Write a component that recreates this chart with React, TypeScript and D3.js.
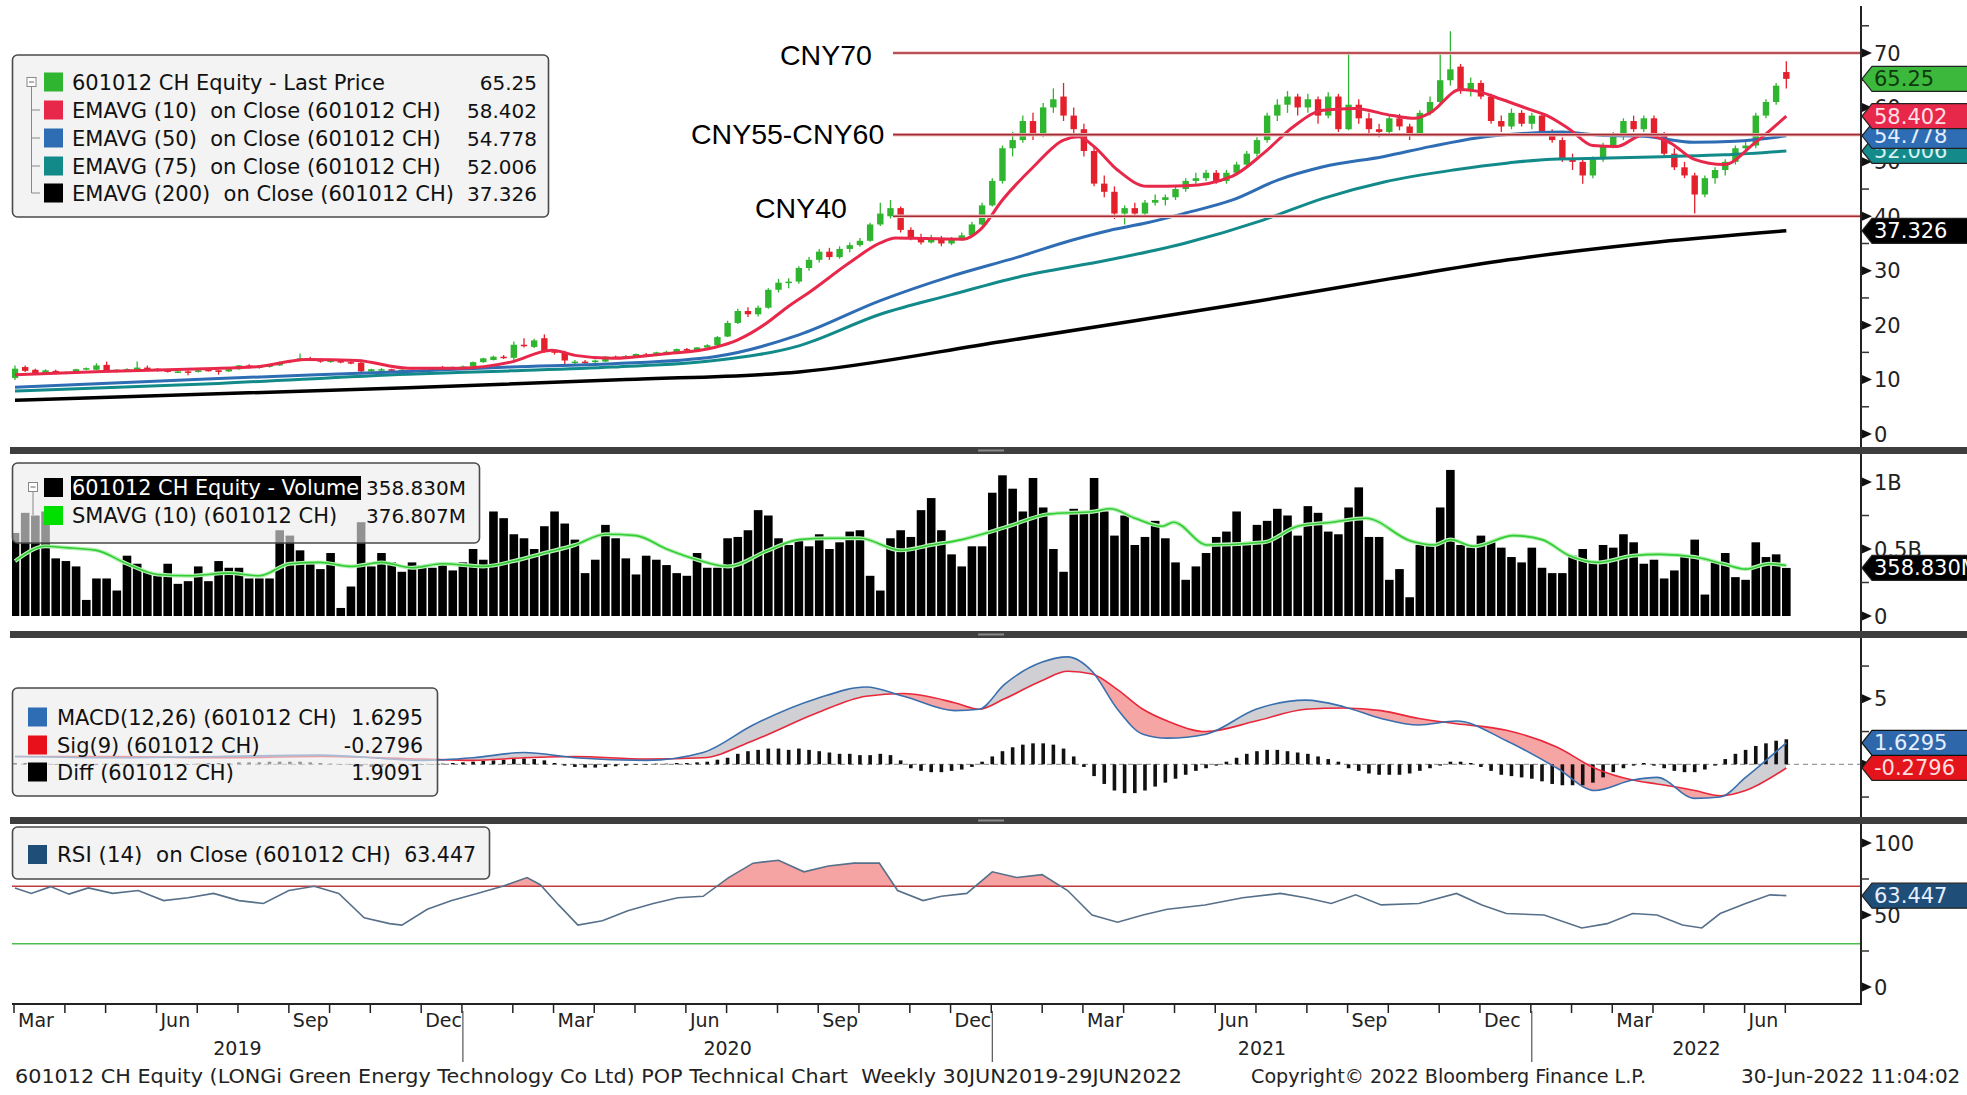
import React from "react";
import * as d3 from "d3";

// ---------- DATA ----------
const weekDates: Date[] = d3.timeFriday.range(new Date(2019, 2, 1), new Date(2022, 6, 2));

// weekly [open, high, low, close]
const priceOHLC: number[][] = [
  [10.3,12.6,9.9,12.0],[12.3,12.6,11.4,11.6],[11.8,12.0,10.9,11.0],[11.1,11.9,10.9,11.7],[11.6,11.8,11.0,11.2],
  [11.2,11.5,11.0,11.3],[11.3,12.0,11.2,11.9],[11.9,12.2,11.7,12.1],[11.8,13.0,11.7,12.6],[12.7,13.3,11.5,11.6],
  [11.6,11.9,11.3,11.8],[11.8,12.1,11.6,11.9],[11.8,13.3,11.7,12.2],[12.2,12.6,11.8,11.9],[12.0,12.1,11.5,11.6],
  [11.7,11.8,11.3,11.4],[11.4,11.7,11.2,11.5],[11.5,11.7,10.8,11.4],[11.4,11.8,11.3,11.7],[11.8,11.9,11.5,11.6],
  [11.7,11.8,10.9,11.4],[11.5,12.0,11.4,11.9],[11.9,12.7,11.8,12.6],[12.6,12.8,12.1,12.2],[12.2,12.5,12.0,12.4],
  [12.4,12.8,12.2,12.6],[12.6,13.3,12.5,13.2],[13.2,13.6,13.0,13.5],[13.5,14.8,13.4,13.9],[13.9,14.2,13.4,13.6],
  [13.7,13.9,13.1,13.3],[13.3,13.6,13.1,13.5],[13.4,13.7,13.0,13.2],[13.2,13.4,12.8,13.0],[13.1,13.3,11.0,11.5],
  [11.5,12.0,11.3,11.9],[11.8,12.1,11.6,11.9],[11.9,12.0,11.4,11.6],[11.6,11.9,11.4,11.8],[11.8,11.9,11.3,11.5],
  [11.5,11.8,11.3,11.6],[11.6,12.3,11.5,12.2],[12.3,12.5,11.9,12.0],[12.0,12.4,11.9,12.3],[12.3,12.6,12.1,12.4],
  [12.4,13.3,12.3,13.2],[13.2,14.0,13.1,13.9],[13.6,14.4,13.5,14.2],[14.2,14.5,13.8,14.0],[14.0,17.0,13.4,16.4],
  [16.4,17.6,15.9,16.2],[16.0,17.5,15.8,17.2],[17.6,18.3,15.0,15.2],[15.2,15.6,14.6,15.0],[15.0,15.3,12.4,13.5],
  [13.2,13.6,12.5,13.3],[13.3,13.6,12.9,13.2],[13.2,13.7,13.0,13.5],[13.3,14.3,13.2,14.2],[14.2,14.4,13.8,14.0],
  [14.0,14.5,13.9,14.3],[14.2,14.8,14.1,14.7],[14.6,14.9,14.3,14.5],[14.4,15.1,14.3,15.0],[15.0,15.3,14.8,15.1],
  [15.0,15.7,14.9,15.6],[15.6,15.8,15.1,15.3],[15.3,16.0,15.2,15.9],[15.9,16.5,15.8,16.3],[16.3,18.0,16.2,17.8],
  [17.9,20.8,17.8,20.4],[20.4,23.0,20.2,22.6],[22.6,23.3,21.5,22.0],[22.0,23.6,21.6,23.2],[23.2,26.8,23.0,26.5],
  [26.5,28.5,26.0,27.8],[27.8,28.6,26.8,28.0],[28.0,30.8,27.6,30.5],[30.5,32.5,30.0,32.0],[32.0,34.0,31.5,33.5],
  [33.5,34.2,32.0,32.5],[32.5,34.5,32.2,34.0],[34.0,35.2,33.4,34.7],[34.7,36.0,34.4,35.5],[35.5,38.8,35.3,38.5],
  [38.5,42.5,38.2,40.5],[40.0,43.0,39.6,41.5],[41.5,41.8,37.0,37.5],[37.5,38.0,35.6,36.0],[36.0,36.8,34.8,35.2],
  [35.2,36.6,35.0,36.0],[36.0,36.4,34.5,35.0],[35.0,36.2,34.7,35.8],[35.8,37.0,35.5,36.5],[36.5,39.0,36.2,38.5],
  [38.5,42.5,38.3,42.0],[42.0,47.0,41.8,46.5],[46.5,53.0,46.0,52.5],[52.5,55.5,51.0,54.0],[54.0,58.5,53.5,57.5],
  [57.5,59.0,54.0,55.0],[55.0,60.8,54.5,60.0],[60.0,63.5,59.0,61.5],[62.0,64.5,57.5,58.5],[58.5,60.0,55.0,56.0],
  [56.0,57.0,51.0,52.0],[52.0,53.0,45.5,46.0],[46.0,47.5,43.5,44.5],[44.5,45.5,39.5,40.5],[40.5,42.0,38.5,41.5],
  [41.5,42.5,39.8,40.5],[40.5,43.0,40.2,42.5],[42.5,44.0,42.0,43.0],[43.0,44.0,42.0,43.5],[43.5,45.5,43.0,45.0],
  [45.0,47.0,44.5,46.5],[46.5,48.0,46.0,47.0],[47.0,48.5,46.5,48.0],[48.0,48.5,46.0,46.5],[46.5,48.5,46.0,48.0],
  [48.0,50.0,47.5,49.5],[49.5,52.0,49.0,51.5],[51.5,54.5,51.0,54.0],[54.0,59.0,53.5,58.5],[58.5,61.5,57.5,60.5],
  [60.5,63.0,59.0,62.0],[62.0,62.5,58.5,60.0],[60.0,62.5,59.0,61.5],[61.5,62.0,57.0,58.5],[58.5,62.8,58.0,62.0],
  [62.0,62.5,55.5,56.0],[56.0,70.2,55.8,60.5],[60.5,61.5,57.0,58.0],[58.0,59.0,55.0,56.0],[56.0,57.0,54.5,55.5],
  [55.5,58.5,55.0,58.0],[58.0,58.8,55.8,56.5],[56.5,57.0,54.0,55.0],[55.0,59.5,54.8,59.0],[59.0,62.0,58.5,61.0],
  [61.0,70.0,60.5,65.0],[65.0,74.0,64.0,67.0],[67.5,68.0,62.5,63.0],[63.0,65.5,62.0,64.5],[64.5,65.0,61.5,62.0],
  [62.0,62.5,57.0,57.5],[57.5,58.5,55.5,56.5],[56.5,59.8,56.0,59.0],[59.0,59.5,56.5,57.0],[57.0,59.0,56.0,58.5],
  [58.5,59.0,55.0,55.5],[55.5,56.0,53.5,54.0],[54.0,54.5,50.0,50.5],[50.5,51.5,48.5,50.0],[50.0,50.5,46.0,47.5],
  [47.5,51.0,47.0,50.5],[50.5,53.5,50.0,53.0],[53.0,55.5,52.5,55.0],[55.0,58.0,54.0,57.5],[57.5,58.5,55.5,56.0],
  [56.0,58.5,55.5,58.0],[58.0,58.5,54.5,55.0],[55.0,55.5,51.0,51.5],[51.5,52.5,48.5,49.0],[49.0,50.0,47.0,47.5],
  [47.5,48.0,40.5,44.0],[44.0,47.5,43.5,47.0],[47.0,49.0,46.0,48.5],[48.5,50.5,47.5,50.0],[50.0,53.0,49.5,52.5],
  [52.5,54.0,51.5,53.0],[53.0,59.0,52.5,58.5],[58.5,61.5,58.0,61.0],[61.0,64.5,60.5,64.0],[66.5,68.5,63.5,65.25],
];

// weekly volume, millions of shares
const volumeM: number[] = [
  620,770,750,780,430,410,370,120,280,280, 190,450,390,330,300,390,240,260,370,260,
  410,360,360,280,280,280,640,600,490,390, 350,470,60,220,700,370,470,400,330,400,
  380,360,400,340,400,500,420,780,730,610, 580,500,670,780,690,570,320,420,680,580,
  430,310,450,420,380,320,300,470,360,360, 580,590,640,790,750,580,530,560,520,610,
  500,550,630,640,300,190,580,640,590,790, 880,640,460,370,520,520,920,1050,950,780,
  1030,810,500,330,800,770,1030,780,600,750, 530,590,710,580,400,270,370,470,590,630,
  780,550,680,710,800,750,600,820,770,630, 610,810,960,590,590,270,350,140,530,530,
  810,1090,530,510,600,550,510,440,400,510, 360,320,320,450,500,400,530,510,610,550,
  390,420,280,340,450,570,160,400,470,290, 270,550,440,460,358.83,
];

// [week index, value] points
const volSma10: number[][] = [
  [0,410],[3,520],[5,510],[8,490],[11,390],[14,310],[17,300],[21,320],[24,300],[27,390],[30,400],[33,370],
  [36,400],[39,360],[42,390],[46,370],[49,410],[52,470],[55,530],[58,610],[61,600],[64,500],[67,420],[70,370],
  [74,490],[77,570],[80,580],[83,580],[87,490],[90,530],[93,570],[95,610],[97.6,670],[101.5,760],[106,780],
  [107.6,800],[110,730],[112.7,670],[113.8,700],[117.1,530],[122.7,550],[126,670],[129.4,700],[132.7,730],
  [137.1,560],[139.4,530],[141,570],[143.3,520],[147.2,600],[150,570],[152.7,450],[155.5,400],[158.9,450],
  [161.6,460],[165,440],[167.8,390],[170,350],[172.3,390],[174,376.807],
];

const ema10: number[][] = [
  [0,10.9],[8.6,11.5],[18.6,12.0],[24,12.4],[28.6,13.7],[33.6,13.5],[38.6,12.1],[43.7,12.1],[48.7,13.2],
  [52.7,15.4],[55.2,14.4],[58.7,13.9],[63.7,14.7],[68.7,15.9],[71,17.3],[73.7,20.2],[75.8,23.2],[78,26],
  [82,31.5],[85,35.1],[86.5,36],[89.5,35.9],[93.2,35.8],[94.8,37.5],[97,43],[100,49],[103,54],[104.5,54.6],
  [106,52.8],[108.3,48.5],[111.2,45.5],[115,45.6],[119.6,47.4],[122.6,51.5],[125.6,56.5],[128.5,59.5],
  [131.6,59.8],[135.3,58.5],[137.5,58],[139,59],[142,63.3],[143.6,63],[146,61.5],[149,59.5],[150.5,58.5],
  [152.7,56],[155,53],[157.3,52.8],[160,55],[162.6,53.5],[164.9,50.5],[167.9,49.5],[170.8,53.3],[174,58.402],
];
const ema50: number[][] = [
  [0,8.6],[20,10.2],[38.6,11.5],[48.7,12.3],[58.7,12.9],[68.7,14.2],[77,18.2],[85,24.5],[92,29],[98.5,32.5],
  [103.8,35.6],[107.5,37.4],[111.2,38.8],[115,40.6],[119.6,43],[124.1,46.7],[128.5,49.1],[134.5,51],[139,52.8],
  [143.6,54.4],[149,55.3],[152,55.5],[155.7,54.9],[160,54.7],[164.9,53.6],[169,53.8],[174,54.778],
];
const ema75: number[][] = [
  [0,7.9],[20,9.3],[38.6,11.0],[48.7,11.6],[58.7,12.3],[68.7,13.5],[77,16.2],[85,22],[92,25.6],[98.5,28.8],
  [107.5,32],[115,35.1],[122.6,39.3],[128.5,43.3],[134.5,46.3],[141.3,48.5],[146.7,49.8],[151,50.5],
  [156.5,50.7],[162.6,51],[167.9,51.3],[174,52.006],
];
const ema200: number[][] = [
  [0,6.2],[38.6,8.5],[60,10.0],[77,11.4],[97,17],[110,20.8],[122,24.4],[135,28.5],[146.7,32],[160,35],[174,37.326],
];

const macdIdx: number[] = [0,10,20,30,40,45,50,55,62,67.6,72.5,78.7,83.6,87.3,92.3,94.7,97.2,100.9,103.4,105.8,108.3,
  110.8,113.2,117,121.9,126.8,130.5,134.2,137.9,141.6,146.5,151.5,155.2,158.9,161.3,165,167.5,170,174];
const macdVals: number[] = [0.6,0.5,0.6,0.7,0.3,0.5,0.9,0.5,0.3,0.9,3.0,5.0,5.9,5.2,4.1,4.2,6.1,7.8,8.2,7.1,4.2,
  2.3,2.0,2.3,4.2,4.9,4.4,3.5,3.0,3.3,1.8,-0.3,-2.0,-1.2,-1.0,-2.6,-2.5,-1.0,1.6295];
const signalVals: number[] = [0.6,0.6,0.5,0.6,0.4,0.3,0.5,0.6,0.4,0.5,1.8,3.9,5.2,5.4,4.7,4.2,5.0,6.4,7.1,6.9,5.7,
  4.2,3.3,2.5,3.3,4.2,4.3,4.1,3.5,3.1,2.6,1.3,-0.3,-1.2,-1.5,-2.0,-2.4,-2.0,-0.2796];
const macdDiff: number[] = [
  0.1,0.1,0.05,0,-0.05,-0.1,-0.1,-0.05,0,0.05, 0.05,0,0,-0.05,-0.1,-0.1,-0.05,0,0.05,0.1,
  0.1,0.1,0.15,0.15,0.15,0.2,0.2,0.2,0.2,0.15, 0.1,0.05,0,-0.05,-0.15,-0.2,-0.2,-0.2,-0.15,-0.1,
  -0.05,0,0.05,0.1,0.15,0.2,0.25,0.3,0.35,0.4, 0.45,0.4,0.3,0.1,-0.1,-0.2,-0.25,-0.25,-0.2,-0.15,
  -0.1,-0.05,0,0.05,0.05,0.1,0.1,0.15,0.2,0.35, 0.5,0.8,1.0,1.1,1.2,1.2,1.1,1.2,1.1,1.0,
  0.9,0.8,0.8,0.7,0.7,0.8,0.7,0.3,-0.3,-0.5, -0.6,-0.6,-0.5,-0.4,-0.2,0.2,0.6,1.0,1.3,1.5,
  1.6,1.6,1.5,1.2,0.6,-0.2,-0.9,-1.5,-2.0,-2.2, -2.2,-2.0,-1.7,-1.4,-1.1,-0.8,-0.5,-0.3,-0.1,0.2,
  0.5,0.8,1.0,1.1,1.1,1.0,0.9,0.8,0.6,0.4, 0.2,-0.3,-0.5,-0.7,-0.8,-0.8,-0.8,-0.7,-0.5,-0.3,
  -0.1,0.2,0.2,0.1,-0.2,-0.5,-0.8,-0.9,-1.0,-1.1, -1.3,-1.5,-1.6,-1.6,-1.6,-1.4,-1.0,-0.6,-0.3,-0.1,
  0.1,-0.1,-0.3,-0.5,-0.6,-0.6,-0.4,-0.1,0.4,0.8, 1.1,1.4,1.6,1.8,1.9091,
];

const rsi14: number[][] = [
  [0,68.8],[1.6,65],[3.5,69.7],[5.3,64.5],[7.2,68.8],[9.6,65],[12.1,67],[14.6,60],[17,62],[19.5,65],[22,60],
  [24.4,58],[26.9,67],[29.4,70],[31.8,65],[34.3,48],[36.8,44],[38,43],[40.5,54],[42.9,60],[45.4,65],[47.9,70],
  [50.3,76],[51.6,71],[53.4,57],[55.3,43],[57.7,46],[60.2,53],[62.7,58],[65.1,62],[67.6,63],[70.1,76],[72.5,86],
  [75,88],[77.5,80],[79.9,84],[82.4,86],[84.9,86],[86.7,67],[89.2,60],[91,63],[93.5,65],[96,80],[98.4,76],
  [100.9,78],[103.4,67],[105.8,50],[108.3,45],[110.8,50],[113.2,54],[116.9,57],[120.6,62],[124.3,65],[126.8,62],
  [129.3,58],[131.7,64],[134.2,57],[137.9,58],[141.6,65],[144.1,57],[146.5,51],[150.2,50],[153.9,41],[156.4,44],
  [158.9,51],[161.3,50],[163.8,43],[165.7,41],[167.5,51],[170,58],[172.4,64],[174,63.447],
];

const priceTickVals = [0, 10, 20, 30, 40, 50, 60, 70];
const priceMinorVals = [5, 15, 25, 35, 45, 55, 65, 75];
const volTickVals = [0, 500, 1000];
const volTickLabels = ["0", "0.5B", "1B"];
const volMinorVals = [250, 750];
const macdTickVals = [0, 5];
const macdMinorVals = [-2.5, 2.5, 7.5];
const rsiTickVals = [0, 50, 100];
const rsiMinorVals = [25, 75];

const levelValues = [70, 55, 40];
const levelLabels = ["CNY70", "CNY55-CNY60", "CNY40"];

const priceLegendLabels = [
  "601012 CH Equity - Last Price",
  "EMAVG (10)  on Close (601012 CH)",
  "EMAVG (50)  on Close (601012 CH)",
  "EMAVG (75)  on Close (601012 CH)",
  "EMAVG (200)  on Close (601012 CH)",
];
const priceLegendValues = ["65.25", "58.402", "54.778", "52.006", "37.326"];
const volLegendLabels = ["601012 CH Equity - Volume", "SMAVG (10) (601012 CH)"];
const volLegendValues = ["358.830M", "376.807M"];
const macdLegendLabels = ["MACD(12,26) (601012 CH)", "Sig(9) (601012 CH)", "Diff (601012 CH)"];
const macdLegendValues = ["1.6295", "-0.2796", "1.9091"];
const rsiLegendLabel = "RSI (14)  on Close (601012 CH)";
const rsiLegendValue = "63.447";

const footerLeft = "601012 CH Equity (LONGi Green Energy Technology Co Ltd) POP Technical Chart  Weekly 30JUN2019-29JUN2022";
const footerMid = "Copyright© 2022 Bloomberg Finance L.P.";
const footerRight = "30-Jun-2022 11:04:02";

// ---------- STYLE ----------
const FONT = "'DejaVu Sans', Verdana, sans-serif";
const C_UP = "#2fb52f";
const C_DN = "#e3202c";
const C_E10 = "#e8284a";
const C_E50 = "#2e6db4";
const C_E75 = "#138a8a";
const C_E200 = "#000000";
const C_MACD = "#3a6fae";
const C_SIG = "#e8283a";
const C_RSI = "#56708a";

const AX_X = 1861;
const LEFT = 12;
const PRE: React.CSSProperties = { whiteSpace: "pre" };

export default function App() {
  const x = d3.scaleLinear().domain([0, 174]).range([15, 15 + 174 * 10.18]);
  const yP = d3.scaleLinear().domain([0, 70]).range([434, 53]);
  const yV = d3.scaleLinear().domain([0, 1000]).range([616, 482]);
  const yM = d3.scaleLinear().domain([0, 5]).range([764.3, 698.8]);
  const yR = d3.scaleLinear().domain([0, 100]).range([987, 843]);

  const pLine = (pts: number[][]) =>
    d3.line<number[]>().x((d) => x(d[0])).y((d) => yP(d[1])).curve(d3.curveMonotoneX)(pts) || "";

  const volSmaPath = d3.line<number[]>().x((d) => x(d[0])).y((d) => yV(d[1])).curve(d3.curveMonotoneX)(volSma10) || "";

  const macdPts = macdIdx.map((i, k) => [i, macdVals[k], signalVals[k]]);
  const macdPath = d3.line<number[]>().x((d) => x(d[0])).y((d) => yM(d[1])).curve(d3.curveMonotoneX)(macdPts) || "";
  const sigPath = d3.line<number[]>().x((d) => x(d[0])).y((d) => yM(d[2])).curve(d3.curveMonotoneX)(macdPts) || "";
  const betweenPath = d3.area<number[]>().x((d) => x(d[0])).y0((d) => yM(d[2])).y1((d) => yM(d[1])).curve(d3.curveMonotoneX)(macdPts) || "";
  const aboveSig = d3.area<number[]>().x((d) => x(d[0])).y0(600).y1((d) => yM(d[2])).curve(d3.curveMonotoneX)(macdPts) || "";
  const belowSig = d3.area<number[]>().x((d) => x(d[0])).y0(860).y1((d) => yM(d[2])).curve(d3.curveMonotoneX)(macdPts) || "";

  const rsiPath = d3.line<number[]>().x((d) => x(d[0])).y((d) => yR(d[1]))(rsi14) || "";
  const rsiFill = d3.area<number[]>().x((d) => x(d[0])).y0(yR(70)).y1((d) => yR(d[1]))(rsi14) || "";

  const monthStarts: number[] = [];
  const yearStarts: number[] = [];
  weekDates.forEach((d, i) => {
    if (i === 0 || d.getMonth() !== weekDates[i - 1].getMonth()) monthStarts.push(i);
    if (i > 0 && d.getFullYear() !== weekDates[i - 1].getFullYear()) yearStarts.push(i);
  });
  const fmtMonth = d3.timeFormat("%b");
  const yearSpans: { year: number; x0: number; x1: number }[] = [];
  {
    const bounds = [LEFT, ...yearStarts.map((i) => x(i)), AX_X];
    const years = [weekDates[0].getFullYear(), ...yearStarts.map((i) => weekDates[i].getFullYear())];
    years.forEach((yr, k) => yearSpans.push({ year: yr, x0: bounds[k], x1: bounds[k + 1] }));
  }

  const tri = (y: number) => `M${AX_X + 1},${y - 4.5}L${AX_X + 11},${y}L${AX_X + 1},${y + 4.5}Z`;

  const Tag = ({ cy, bg, fg, text, stroke }: { cy: number; bg: string; fg: string; text: string; stroke?: string }) => (
    <g>
      <path d={`M${AX_X + 1},${cy}L${AX_X + 11},${cy - 12.5}L1970,${cy - 12.5}L1970,${cy + 12.5}L${AX_X + 11},${cy + 12.5}Z`}
        fill={bg} stroke={stroke || "#222"} strokeWidth={1.2} />
      <text x={AX_X + 13} y={cy + 7.5} fontSize={21} fill={fg} fontFamily={FONT}>{text}</text>
    </g>
  );

  const AxisTicks = ({ vals, labels, minor, scale, y0, y1 }: any) => (
    <g>
      <line x1={AX_X} x2={AX_X} y1={y0} y2={y1} stroke="#222" strokeWidth={2} />
      {minor.map((v: number) => (
        <line key={"m" + v} x1={AX_X} x2={AX_X + 8} y1={scale(v)} y2={scale(v)} stroke="#333" strokeWidth={1.5} />
      ))}
      {vals.map((v: number, k: number) => (
        <g key={"t" + v}>
          <path d={tri(scale(v))} fill="#111" />
          <text x={AX_X + 13} y={scale(v) + 7.5} fontSize={21} fill="#222" fontFamily={FONT}>
            {labels ? labels[k] : String(v)}
          </text>
        </g>
      ))}
    </g>
  );

  const legendBox = (x0: number, y0: number, w: number, h: number) => (
    <rect x={x0} y={y0} width={w} height={h} rx={5} fill="rgba(236,236,236,0.62)" stroke="#4a4a4a" strokeWidth={1.6} />
  );

  const treeIcon = (cx: number, cy: number) => (
    <g>
      <rect x={cx - 4.5} y={cy - 4.5} width={9} height={9} fill="#fff" stroke="#888" strokeWidth={1} />
      <line x1={cx - 2.5} x2={cx + 2.5} y1={cy} y2={cy} stroke="#666" strokeWidth={1} />
    </g>
  );

  const priceLegendColors = [C_UP, C_E10, C_E50, C_E75, C_E200];
  const rowsP = [82, 110, 138, 166, 193];
  const rowsM = [717, 745, 772];

  return (
    <svg width={1967} height={1095} style={{ position: "absolute", left: 0, top: 0, background: "#fff" }}
      fontFamily={FONT}>
      <defs>
        <clipPath id="plotClip"><rect x={LEFT} y={0} width={AX_X - LEFT} height={1004} /></clipPath>
        <clipPath id="aboveSig"><path d={aboveSig} /></clipPath>
        <clipPath id="belowSig"><path d={belowSig} /></clipPath>
        <clipPath id="above70"><rect x={LEFT} y={824} width={AX_X - LEFT} height={yR(70) - 824} /></clipPath>
      </defs>
      <rect x={0} y={0} width={1967} height={1095} fill="#fff" />

      {/* ---------- PRICE PANEL ---------- */}
      <g clipPath="url(#plotClip)">
        {priceOHLC.map((d, i) => {
          const [o, h, l, c] = d;
          const col = c >= o ? C_UP : C_DN;
          const top = yP(Math.max(o, c));
          const bh = Math.max(1.5, Math.abs(yP(o) - yP(c)));
          return (
            <g key={"c" + i}>
              <line x1={x(i)} x2={x(i)} y1={yP(h)} y2={yP(l)} stroke={col} strokeWidth={1.3} />
              <rect x={x(i) - 3.2} y={top} width={6.4} height={bh} fill={col} />
            </g>
          );
        })}
        <path d={pLine(ema200)} fill="none" stroke={C_E200} strokeWidth={3.5} />
        <path d={pLine(ema75)} fill="none" stroke={C_E75} strokeWidth={3} />
        <path d={pLine(ema50)} fill="none" stroke={C_E50} strokeWidth={3} />
        <path d={pLine(ema10)} fill="none" stroke={C_E10} strokeWidth={3} />
      </g>
      {levelValues.map((v, k) => (
        <g key={"lv" + k}>
          <line x1={893} x2={AX_X} y1={yP(v)} y2={yP(v)} stroke="#f2c4c4" strokeWidth={3.5} />
          <line x1={893} x2={AX_X} y1={yP(v)} y2={yP(v)} stroke="#a52a33" strokeWidth={1.6} />
        </g>
      ))}
      <text x={780} y={65} fontSize={28.5} fontFamily="'Liberation Sans', Arial, sans-serif" fill="#000">{levelLabels[0]}</text>
      <text x={691} y={144} fontSize={28.5} fontFamily="'Liberation Sans', Arial, sans-serif" fill="#000">{levelLabels[1]}</text>
      <text x={755} y={218} fontSize={28.5} fontFamily="'Liberation Sans', Arial, sans-serif" fill="#000">{levelLabels[2]}</text>

      {/* price legend */}
      {legendBox(12.5, 55, 536, 162)}
      {treeIcon(31.5, 82)}
      <path d={`M31.5,87V193 ${[110, 138, 166, 193].map((r) => `M31.5,${r}H40`).join(" ")}`} stroke="#888" strokeWidth={1} fill="none" />
      {priceLegendLabels.map((lab, k) => (
        <g key={"pl" + k}>
          <rect x={44} y={rowsP[k] - 9.5} width={19} height={19} fill={priceLegendColors[k]} />
          <text x={72} y={rowsP[k] + 7.5} fontSize={21} fill="#111" style={PRE} xmlSpace="preserve">{lab}</text>
          <text x={537} y={rowsP[k] + 7.5} fontSize={20} fill="#111" textAnchor="end">{priceLegendValues[k]}</text>
        </g>
      ))}

      {/* ---------- VOLUME PANEL ---------- */}
      <g clipPath="url(#plotClip)">
        {volumeM.map((v, i) => (
          <rect key={"v" + i} x={x(i) - 4.3} y={yV(v)} width={8.6} height={yV(0) - yV(v)} fill="#000" />
        ))}
        <path d={volSmaPath} fill="none" stroke="#b4f0b4" strokeWidth={4} />
        <path d={volSmaPath} fill="none" stroke="#32cd32" strokeWidth={1.6} />
      </g>
      {legendBox(12.5, 463, 467, 80)}
      {treeIcon(33, 487)}
      <path d="M33,492V515" stroke="#888" strokeWidth={1} fill="none" />
      <rect x={44} y={478} width={19} height={19} fill="#000" />
      <rect x={71} y={476} width={290} height={24} fill="#000" />
      <text x={72} y={495} fontSize={21} fill="#fff" textLength={287} lengthAdjust="spacingAndGlyphs">{volLegendLabels[0]}</text>
      <text x={466} y={495} fontSize={20} fill="#111" textAnchor="end">{volLegendValues[0]}</text>
      <rect x={44} y={506} width={19} height={19} fill="#00e000" />
      <text x={72} y={523} fontSize={21} fill="#111">{volLegendLabels[1]}</text>
      <text x={466} y={523} fontSize={20} fill="#111" textAnchor="end">{volLegendValues[1]}</text>

      {/* ---------- MACD PANEL ---------- */}
      <g clipPath="url(#plotClip)">
        <line x1={LEFT} x2={AX_X} y1={yM(0)} y2={yM(0)} stroke="#9a9a9a" strokeWidth={1.3} strokeDasharray="5,4" />
        <g clipPath="url(#aboveSig)"><path d={betweenPath} fill="#cfcfd4" /></g>
        <g clipPath="url(#belowSig)"><path d={betweenPath} fill="#f6a5a5" /></g>
        {macdDiff.map((v, i) => (
          <rect key={"d" + i} x={x(i) - 1.8} y={Math.min(yM(v), yM(0))} width={3.6}
            height={Math.max(0.6, Math.abs(yM(v) - yM(0)))} fill="#111" />
        ))}
        <path d={sigPath} fill="none" stroke={C_SIG} strokeWidth={1.6} />
        <path d={macdPath} fill="none" stroke={C_MACD} strokeWidth={1.6} />
      </g>
      {legendBox(12.5, 688, 425, 108)}
      {[C_E50, "#e8101a", "#000"].map((col, k) => (
        <g key={"ml" + k}>
          <rect x={28} y={rowsM[k] - 9.5} width={19} height={19} fill={col} />
          <text x={57} y={rowsM[k] + 7.5} fontSize={21} fill="#111">{macdLegendLabels[k]}</text>
          <text x={423} y={rowsM[k] + 7.5} fontSize={20.5} fill="#111" textAnchor="end">{macdLegendValues[k]}</text>
        </g>
      ))}

      {/* ---------- RSI PANEL ---------- */}
      <g clipPath="url(#plotClip)">
        <g clipPath="url(#above70)"><path d={rsiFill} fill="#f6a3a3" /></g>
        <line x1={LEFT} x2={AX_X} y1={yR(70)} y2={yR(70)} stroke="#c23a3e" strokeWidth={1.6} />
        <line x1={LEFT} x2={AX_X} y1={yR(30)} y2={yR(30)} stroke="#4cc04c" strokeWidth={1.6} />
        <path d={rsiPath} fill="none" stroke={C_RSI} strokeWidth={1.6} />
      </g>
      {legendBox(12.5, 827, 477, 52)}
      <rect x={28} y={845} width={19} height={19} fill="#1f4e79" />
      <text x={57} y={862} fontSize={21.4} fill="#111" style={PRE} xmlSpace="preserve">{rsiLegendLabel}</text>
      <text x={476} y={862} fontSize={20.5} fill="#111" textAnchor="end">{rsiLegendValue}</text>

      {/* ---------- RIGHT AXES ---------- */}
      <AxisTicks vals={priceTickVals} minor={priceMinorVals} scale={yP} y0={6} y1={447} />
      <AxisTicks vals={volTickVals} labels={volTickLabels} minor={volMinorVals} scale={yV} y0={454} y1={632} />
      <AxisTicks vals={macdTickVals} minor={macdMinorVals} scale={yM} y0={638} y1={818} />
      <AxisTicks vals={rsiTickVals} minor={rsiMinorVals} scale={yR} y0={824} y1={1005} />

      {/* value tags */}
      <Tag cy={yP(52.006)} bg="#158a8a" fg="#d6f2f2" text="52.006" />
      <Tag cy={yP(54.778)} bg="#2e6db4" fg="#e6efff" text="54.778" />
      <Tag cy={yP(58.402)} bg="#e8284a" fg="#ffe0e6" text="58.402" />
      <Tag cy={yP(65.25)} bg="#3cb83c" fg="#0e3a0e" text="65.25" />
      <Tag cy={yP(37.326)} bg="#000" fg="#fff" text="37.326" />
      <Tag cy={yV(358.83)} bg="#000" fg="#fff" text="358.830M" />
      <Tag cy={yM(-0.2796)} bg="#e4141c" fg="#ffdede" text="-0.2796" />
      <Tag cy={yM(1.6295)} bg="#2f68aa" fg="#e6efff" text="1.6295" stroke="#111" />
      <Tag cy={yR(63.447)} bg="#1f4e79" fg="#e6efff" text="63.447" />

      {/* ---------- SEPARATORS ---------- */}
      {[447, 631, 817].map((y) => (
        <g key={"s" + y}>
          <rect x={10} y={y} width={1957} height={7} fill="#3e3e3e" />
          <rect x={978} y={y + 2.5} width={26} height={2} fill="#8a8a8a" />
        </g>
      ))}

      {/* ---------- X AXIS ---------- */}
      <line x1={LEFT} x2={AX_X + 1} y1={1004} y2={1004} stroke="#222" strokeWidth={2.2} />
      {monthStarts.map((i) => (
        <line key={"mt" + i} x1={x(i) - 1} x2={x(i) - 1} y1={1004} y2={1013} stroke="#222" strokeWidth={1.5} />
      ))}
      {monthStarts.filter((i) => weekDates[i].getMonth() % 3 === 2).map((i) => (
        <text key={"ml" + i} x={x(i) + 3} y={1027} fontSize={19} fill="#222">{fmtMonth(weekDates[i])}</text>
      ))}
      {yearStarts.map((i) => (
        <line key={"yl" + i} x1={x(i)} x2={x(i)} y1={1011} y2={1062} stroke="#333" strokeWidth={1} />
      ))}
      {yearSpans.map((s) => (
        <text key={"yr" + s.year} x={(s.x0 + s.x1) / 2} y={1055} fontSize={19} fill="#222" textAnchor="middle">{s.year}</text>
      ))}

      {/* ---------- FOOTER ---------- */}
      <text x={15} y={1083} fontSize={20} fill="#222" style={PRE} xmlSpace="preserve"
        textLength={1167} lengthAdjust="spacingAndGlyphs">{footerLeft}</text>
      <text x={1251} y={1083} fontSize={20} fill="#222" textLength={395} lengthAdjust="spacingAndGlyphs">{footerMid}</text>
      <text x={1741} y={1083} fontSize={20} fill="#222">{footerRight}</text>
    </svg>
  );
}
